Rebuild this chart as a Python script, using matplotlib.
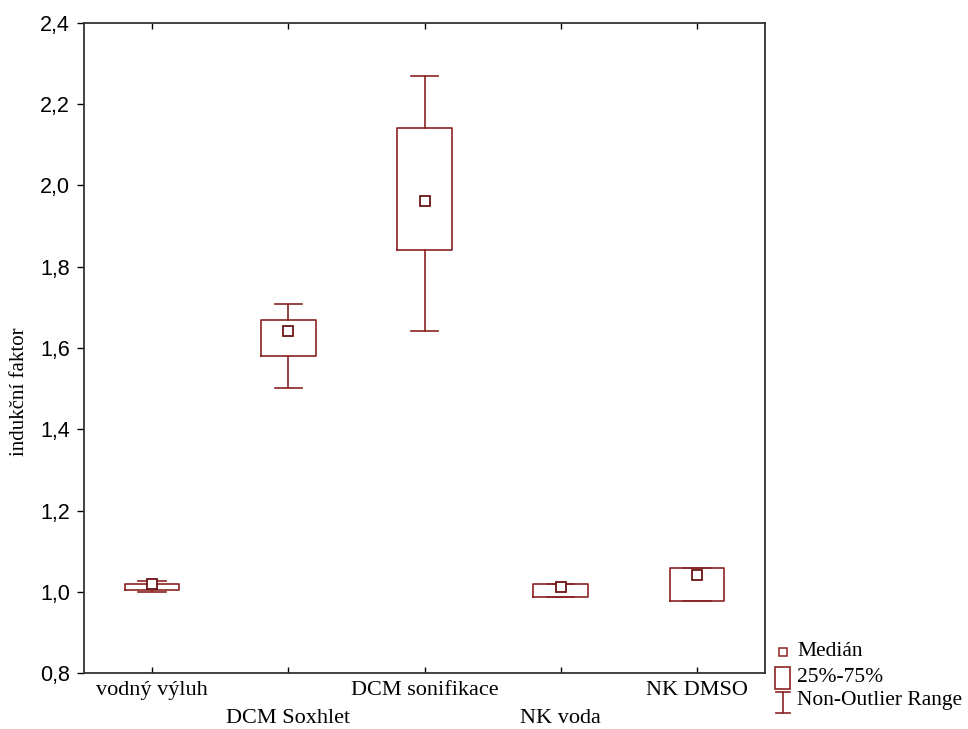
import matplotlib
matplotlib.use("Agg")
import matplotlib.pyplot as plt
from matplotlib.lines import Line2D
from matplotlib.patches import Rectangle

categories = ["vodný výluh", "DCM Soxhlet", "DCM sonifikace", "NK voda", "NK DMSO"]
medians = [1.019, 1.642, 1.961, 1.012, 1.041]
q1 = [1.006, 1.581, 1.840, 0.987, 0.979]
q3 = [1.019, 1.669, 2.141, 1.020, 1.058]
whislo = [0.999, 1.502, 1.642, 0.987, 0.979]
whishi = [1.028, 1.709, 2.268, 1.020, 1.058]
yticks = [0.8, 1.0, 1.2, 1.4, 1.6, 1.8, 2.0, 2.2, 2.4]

color = "#8b2323"
serif = "Liberation Serif"
sans = "Liberation Sans"

fig = plt.figure(figsize=(9.68, 7.29), dpi=100)
ax = fig.add_axes([84/968, 1-673.3/729, (765-84)/968, (673.3-22.7)/729])

stats = []
for i in range(len(categories)):
    stats.append(dict(med=medians[i], q1=q1[i], q3=q3[i],
                      whislo=whislo[i], whishi=whishi[i], fliers=[]))
pos = list(range(len(categories)))
ax.bxp(stats, positions=pos, widths=0.4, capwidths=0.2, showfliers=False,
       boxprops=dict(color=color, linewidth=1.2),
       whiskerprops=dict(color=color, linewidth=1.2),
       capprops=dict(color=color, linewidth=1.2),
       medianprops=dict(linewidth=0))
ax.plot(pos, medians, linestyle="none", marker="s", markersize=7,
        markerfacecolor="white", markeredgecolor="#6b1515", markeredgewidth=1.3, zorder=5)

ax.set_xlim(-0.5, 4.5)
ax.set_ylim(0.8, 2.4)
ax.set_yticks(yticks)
ax.set_yticklabels([f"{v:.1f}".replace(".", ",") for v in yticks], fontfamily=sans, fontsize=15.5)
ax.set_xticks(pos)
ax.set_xticklabels([])
ax.tick_params(axis="y", direction="out", length=5, width=1, left=True, right=False, pad=5)
ax.tick_params(axis="x", direction="in", length=4, width=1, bottom=True, top=True)
for s in ax.spines.values():
    s.set_linewidth(1.3)
    s.set_color("#333333")

# staggered category labels
for i, c in enumerate(categories):
    yoff = -17 if i % 2 == 0 else -45
    ax.annotate(c, xy=(i, 0.8), xycoords=("data", "data"), xytext=(0, yoff),
                textcoords="offset pixels", ha="center", va="center",
                fontfamily=serif, fontsize=16)

ax.set_ylabel("indukční faktor", fontfamily=serif, fontsize=15)
ax.yaxis.label.set_va("center")
ax.yaxis.set_label_coords((20 - 84) / 681.0, (673.3 - 392) / 650.6)

# legend (figure coordinates in pixels)
W, H = 968.0, 729.0
def fx(x): return x / W
def fy(y): return 1 - y / H

fig.add_artist(Line2D([fx(783)], [fy(652)], marker="s", markersize=6, linestyle="none",
                      markerfacecolor="white", markeredgecolor=color, markeredgewidth=1.1))
fig.text(fx(797), fy(652), "Medián", fontfamily=serif, fontsize=15.5, va="center", ha="left")
fig.add_artist(Rectangle((fx(775), fy(689)), 15/W, 22/H, fill=False,
                         edgecolor=color, linewidth=1.2))
fig.text(fx(797), fy(677), "25%-75%", fontfamily=serif, fontsize=15.5, va="center", ha="left")
fig.add_artist(Line2D([fx(783), fx(783)], [fy(692), fy(713)], color=color, linewidth=1.2))
fig.add_artist(Line2D([fx(776), fx(790)], [fy(692), fy(692)], color=color, linewidth=1.2))
fig.add_artist(Line2D([fx(776), fx(790)], [fy(713), fy(713)], color=color, linewidth=1.2))
fig.text(fx(797), fy(701), "Non-Outlier Range", fontfamily=serif, fontsize=15.5, va="center", ha="left")

fig.savefig("out.png", dpi=100)
